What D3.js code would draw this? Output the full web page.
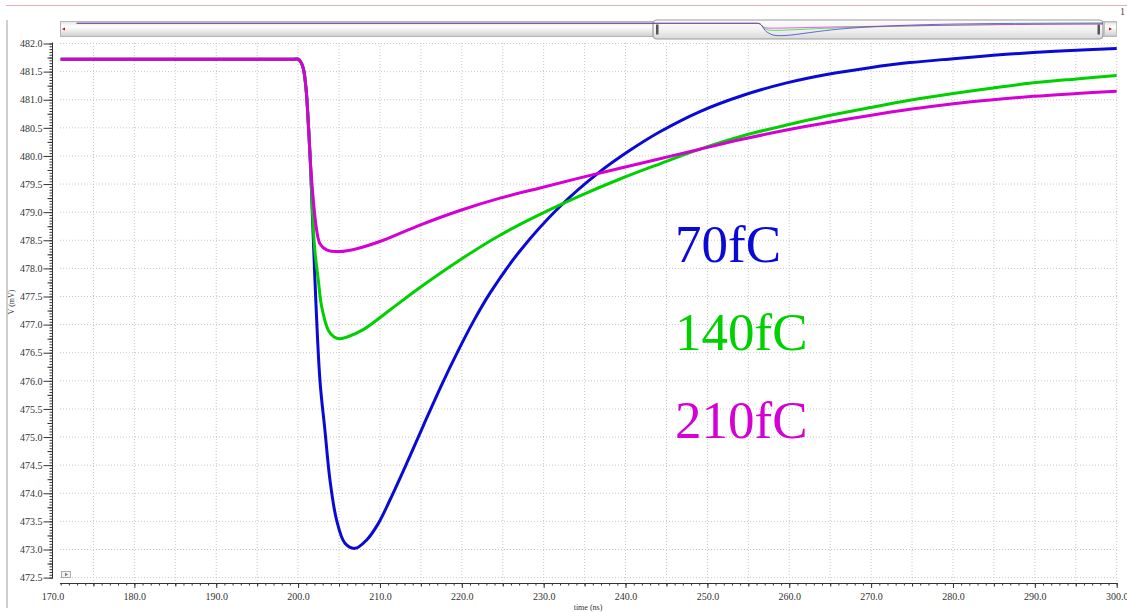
<!DOCTYPE html>
<html>
<head>
<meta charset="utf-8">
<script src="https://cdnjs.cloudflare.com/ajax/libs/d3/7.8.5/d3.min.js"></script>
<style>
  body { margin: 0; background: #fff; }
  svg { display: block; }
</style>
</head>
<body>
<div id="chart"></div>
<script>
// waveform values (time in ns, V in mV)
var tBlue = [171, 199.5, 200.0, 200.3, 200.65, 201.0, 201.25, 201.5, 202.06, 202.67, 203.28, 203.9, 204.71, 205.73, 206.95, 208.38, 209.79, 211.22, 213.26, 215.29, 217.54, 219.5, 221.5, 223.44, 227.1, 231.99, 236.88, 240.54, 244.2, 249.09, 254.38, 259.68, 264.57, 269.85, 274.74, 280.03, 284.91, 289.8, 295.1, 300];
var vBlue = [481.72, 481.72, 481.72, 481.68, 481.55, 481.15, 480.58, 479.9, 477.79, 476.01, 475.12, 474.23, 473.52, 473.11, 473.02, 473.17, 473.46, 473.88, 474.53, 475.20, 475.93, 476.52, 477.08, 477.56, 478.31, 479.10, 479.72, 480.10, 480.43, 480.79, 481.08, 481.30, 481.45, 481.57, 481.66, 481.73, 481.79, 481.84, 481.88, 481.91];

var tGreen = [171, 199.5, 200.0, 200.3, 200.65, 201.0, 201.25, 201.5, 202.0, 202.47, 202.88, 203.69, 204.4, 205.12, 206.0, 207.96, 211.22, 214.89, 219.77, 224.66, 229.55, 234.43, 239.32, 244.2, 249.09, 254.38, 259.68, 264.57, 269.85, 274.74, 280.03, 284.91, 289.8, 295.1, 300];
var vGreen = [481.72, 481.72, 481.72, 481.68, 481.55, 481.15, 480.58, 479.9, 478.4, 477.79, 477.32, 476.90, 476.78, 476.75, 476.78, 476.91, 477.26, 477.66, 478.15, 478.59, 478.96, 479.29, 479.59, 479.86, 480.12, 480.36, 480.55, 480.71, 480.86, 480.99, 481.11, 481.21, 481.30, 481.37, 481.43];

var tMagenta = [171, 199.5, 200.0, 200.3, 200.65, 201.0, 201.25, 201.5, 201.66, 202.0, 202.27, 202.67, 203.49, 205.12, 207.16, 210.41, 214.89, 219.77, 224.66, 229.55, 234.43, 239.32, 244.2, 249.09, 254.38, 259.68, 264.57, 269.85, 274.74, 280.03, 284.91, 289.8, 295.1, 300];
var vMagenta = [481.72, 481.72, 481.72, 481.68, 481.55, 481.15, 480.58, 479.9, 479.57, 479.0, 478.68, 478.44, 478.33, 478.30, 478.35, 478.50, 478.77, 479.03, 479.25, 479.43, 479.61, 479.78, 479.95, 480.12, 480.30, 480.46, 480.59, 480.72, 480.83, 480.93, 481.00, 481.06, 481.11, 481.15];

var seriesNames = ['70fC', '140fC', '210fC'];
var xTickLabels = [170, 180, 190, 200, 210, 220, 230, 240, 250, 260, 270, 280, 290, 300];
var yTickLabels = [482.0, 481.5, 481.0, 480.5, 480.0, 479.5, 479.0, 478.5, 478.0, 477.5, 477.0, 476.5, 476.0, 475.5, 475.0, 474.5, 474.0, 473.5, 473.0, 472.5];
var simStart = 3.5;   // overview strip shows the whole run
var simEnd = 300;

var colors = ['#0a0ad4', '#00d000', '#d400d4'];

var width = 1127, height = 612;
var plotL = 60, plotR = 1117, plotT = 43, plotB = 583;

var svg = d3.select('#chart').append('svg')
  .attr('width', width).attr('height', height);

var defs = svg.append('defs');
defs.append('clipPath').attr('id', 'plotClip')
  .append('rect').attr('x', plotL).attr('y', plotT - 3)
  .attr('width', plotR - plotL).attr('height', plotB - plotT + 3);

var barGrad = defs.append('linearGradient').attr('id', 'barGrad')
  .attr('x1', 0).attr('y1', 0).attr('x2', 0).attr('y2', 1);
barGrad.append('stop').attr('offset', '0').attr('stop-color', '#e4e4e4');
barGrad.append('stop').attr('offset', '0.35').attr('stop-color', '#ffffff');
barGrad.append('stop').attr('offset', '1').attr('stop-color', '#cfcfcf');

var thumbGrad = defs.append('linearGradient').attr('id', 'thumbGrad')
  .attr('x1', 0).attr('y1', 0).attr('x2', 0).attr('y2', 1);
thumbGrad.append('stop').attr('offset', '0').attr('stop-color', '#fdfdfd');
thumbGrad.append('stop').attr('offset', '0.5').attr('stop-color', '#f2f2f2');
thumbGrad.append('stop').attr('offset', '1').attr('stop-color', '#d9d9d9');

// window chrome
svg.append('line').attr('x1', 6).attr('x2', width).attr('y1', 5.5).attr('y2', 5.5)
  .style('stroke', '#e3b3b3').style('stroke-width', 1);
svg.append('line').attr('x1', 7).attr('x2', 7).attr('y1', 20).attr('y2', 608)
  .style('stroke', '#cfcfcf').style('stroke-width', 2);
svg.append('text').attr('x', 1120).attr('y', 15)
  .style('font-family', 'Liberation Serif').style('font-size', '10px').style('fill', '#444')
  .text('1');

// scales
var x = d3.scaleLinear().domain([170, 300]).range([52.5, 1116.7]);
var y = d3.scaleLinear().domain([472.5, 482]).range([577.6, 43.5]);

// grid
var grid = svg.append('g').attr('class', 'grid');
grid.selectAll('line.v').data(d3.range(175, 301, 5)).enter().append('line')
  .attr('x1', function (d) { return x(d); }).attr('x2', function (d) { return x(d); })
  .attr('y1', plotT).attr('y2', plotB)
  .style('stroke', '#c8c8c8').style('stroke-width', 1).style('stroke-dasharray', '1,2');
grid.selectAll('line.h').data(yTickLabels).enter().append('line')
  .attr('x1', plotL).attr('x2', plotR)
  .attr('y1', function (d) { return y(d); }).attr('y2', function (d) { return y(d); })
  .style('stroke', '#c8c8c8').style('stroke-width', 1).style('stroke-dasharray', '1,2');

// x axis: minor / medium / major ticks
function tidy(g) {
  g.select('.domain').remove();
  g.selectAll('line').style('stroke', '#333');
  g.selectAll('text').style('font-family', 'Liberation Serif').style('font-size', '10px').style('fill', '#333');
}
svg.append('g').attr('transform', 'translate(0,' + plotB + ')')
  .call(d3.axisBottom(x).tickValues(d3.range(171, 301, 1)).tickSize(2.5).tickFormat(''))
  .call(tidy);
svg.append('g').attr('transform', 'translate(0,' + plotB + ')')
  .call(d3.axisBottom(x).tickValues(d3.range(175, 301, 10)).tickSize(3.5).tickFormat(''))
  .call(tidy);
var xMajor = svg.append('g').attr('transform', 'translate(0,' + plotB + ')')
  .call(d3.axisBottom(x).tickValues(xTickLabels).tickSize(5).tickPadding(5).tickFormat(d3.format('.1f')))
  .call(tidy);
xMajor.selectAll('.tick line').filter(function (d) { return x(d) < plotL; }).remove();
svg.append('line').attr('x1', plotL).attr('x2', plotR).attr('y1', plotB + 0.5).attr('y2', plotB + 0.5)
  .style('stroke', '#333').style('stroke-width', 1);

// y axis
var axisX = 52.5;
svg.append('g').attr('transform', 'translate(' + axisX + ',0)')
  .call(d3.axisLeft(y).tickValues(d3.range(0, 191).map(function (i) { return 472.5 + i * 0.05; })).tickSize(3).tickFormat(''))
  .call(tidy);
svg.append('g').attr('transform', 'translate(' + axisX + ',0)')
  .call(d3.axisLeft(y).tickValues(yTickLabels.map(function (d) { return d - 0.25; }).filter(function (d) { return d >= 472.5; })).tickSize(5).tickFormat(''))
  .call(tidy);
svg.append('g').attr('transform', 'translate(' + axisX + ',0)')
  .call(d3.axisLeft(y).tickValues(yTickLabels).tickSize(9).tickPadding(1).tickFormat(d3.format('.1f')))
  .call(tidy);
svg.append('line').attr('x1', axisX).attr('x2', axisX).attr('y1', y(482) - 1).attr('y2', y(472.5) + 1)
  .style('stroke', '#333').style('stroke-width', 1);

svg.append('text').attr('x', 588).attr('y', 610).attr('text-anchor', 'middle')
  .style('font-family', 'Liberation Serif').style('font-size', '8px').style('fill', '#333')
  .text('time (ns)');
svg.append('text').attr('transform', 'translate(14,302) rotate(-90)').attr('text-anchor', 'middle')
  .style('font-family', 'Liberation Serif').style('font-size', '8px').style('fill', '#333')
  .text('V (mV)');

// little play button bottom-left of the plot
svg.append('rect').attr('x', 61.5).attr('y', 571.5).attr('width', 9).attr('height', 6)
  .style('fill', '#f2f2f2').style('stroke', '#999').style('stroke-width', 0.8);
svg.append('path').attr('d', 'M65,572.8 L68,574.5 L65,576.2 Z').style('fill', '#777');

// curves
var series = [
  { name: seriesNames[0], t: tBlue, v: vBlue, color: colors[0] },
  { name: seriesNames[1], t: tGreen, v: vGreen, color: colors[1] },
  { name: seriesNames[2], t: tMagenta, v: vMagenta, color: colors[2] }
];

var line = d3.line()
  .x(function (d) { return x(d[0]); })
  .y(function (d) { return y(d[1]); })
  .curve(d3.curveCatmullRom.alpha(0.5));

var curves = svg.append('g').attr('clip-path', 'url(#plotClip)');
series.forEach(function (s) {
  curves.append('path')
    .datum(d3.zip(s.t, s.v))
    .attr('d', line)
    .style('fill', 'none')
    .style('stroke', s.color)
    .style('stroke-width', 3)
    .style('stroke-linejoin', 'round');
});

// labels
var labelY = [262, 350, 438];
series.forEach(function (s, i) {
  svg.append('text').attr('x', 675).attr('y', labelY[i])
    .style('font-family', 'Liberation Serif').style('font-size', '53px')
    .style('fill', s.color)
    .text(s.name);
});

// scroll bar with overview of whole run
var bar = svg.append('g');
bar.append('rect').attr('x', plotL + 0.5).attr('y', 21.5).attr('width', plotR - plotL - 1).attr('height', 15)
  .style('fill', 'url(#barGrad)').style('stroke', '#b5b5b5');
bar.append('path').attr('d', 'M62,29 L65,27.5 L65,30.5 Z').style('fill', '#e00000');
bar.append('rect').attr('x', 1104.5).attr('y', 22).attr('width', 12).attr('height', 14)
  .style('fill', 'url(#barGrad)').style('stroke', '#c0c0c0');
bar.append('path').attr('d', 'M1112,29 L1109,27.5 L1109,30.5 Z').style('fill', '#e00000');

var ox = d3.scaleLinear().domain([170, 300]).range([653, 1103]);
var oy = d3.scaleLinear().domain([473.02, 481.72]).range([35.7, 23.3]);

bar.append('rect').attr('x', ox(170)).attr('y', 20).attr('width', ox(300) - ox(170)).attr('height', 19)
  .attr('rx', 4).attr('ry', 4)
  .style('fill', 'url(#thumbGrad)').style('stroke', '#9a9a9a').style('stroke-width', 1.2);
bar.append('rect').attr('x', ox(170) + 3).attr('y', 24.5).attr('width', 2.5).attr('height', 10).style('fill', '#555');
bar.append('rect').attr('x', ox(300) - 5.5).attr('y', 24.5).attr('width', 2.5).attr('height', 10).style('fill', '#555');

var oline = d3.line()
  .x(function (d) { return ox(d[0]); })
  .y(function (d) { return oy(d[1]); })
  .curve(d3.curveMonotoneX);
series.forEach(function (s) {
  var pts = [[simStart, s.v[0]]].concat(d3.zip(s.t, s.v)).filter(function (d) { return d[0] <= simEnd; });
  bar.append('path')
    .datum(pts)
    .attr('d', oline)
    .style('fill', 'none')
    .style('stroke', s.color)
    .style('stroke-width', 1)
    .style('opacity', 0.6);
});
</script>
</body>
</html>
